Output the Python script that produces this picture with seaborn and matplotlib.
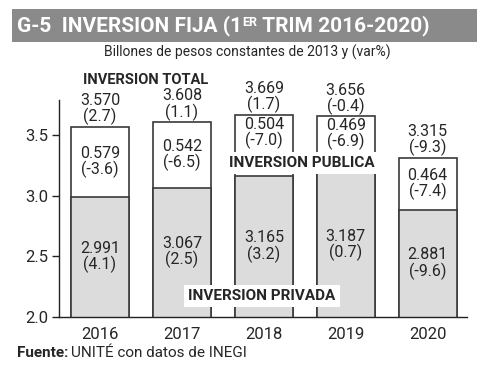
import matplotlib
matplotlib.use('Agg')
import matplotlib.pyplot as plt
import matplotlib.patches as mpatches
import seaborn as sns
import pandas as pd

# 데이터
years = ['2016', '2017', '2018', '2019', '2020']
total = [3.570, 3.608, 3.669, 3.656, 3.315]
total_var = [2.7, 1.1, 1.7, -0.4, -9.3]
publica = [0.579, 0.542, 0.504, 0.469, 0.464]
publica_var = [-3.6, -6.5, -7.0, -6.9, -7.4]
privada = [2.991, 3.067, 3.165, 3.187, 2.881]
privada_var = [4.1, 2.5, 3.2, 0.7, -9.6]

sns.set_style('white')
plt.rcParams['font.family'] = ['Roboto', 'DejaVu Sans']

df = pd.DataFrame({'year': years, 'total': total, 'privada': privada})

fig = plt.figure(figsize=(5, 3.68), dpi=100)
ax = fig.add_axes([0.118, 0.1386, 0.816, 0.5894])

edge = '#3a3a3a'
sns.barplot(data=df, x='year', y='total', color='white', edgecolor=edge,
            linewidth=1.2, width=0.71, saturation=1, ax=ax)
sns.barplot(data=df, x='year', y='privada', color='#dcdcdc', edgecolor=edge,
            linewidth=1.2, width=0.71, saturation=1, ax=ax)

ax.set_ylim(2.0, 3.79)
ax.set_xlim(-0.5, 4.48)
ax.set_yticks([2.0, 2.5, 3.0, 3.5])
ax.set_xlabel('')
ax.set_ylabel('')
for s in ['top', 'right']:
    ax.spines[s].set_visible(False)
for s in ['left', 'bottom']:
    ax.spines[s].set_color('#222222')
    ax.spines[s].set_linewidth(1.0)
ax.tick_params(axis='y', which='major', left=True, length=5, width=1, color='#222222',
               labelsize=12, pad=3)
ax.tick_params(axis='x', bottom=False, labelsize=12, pad=4)

fs = 11.5
# 라벨 박스 위치 (INVERSION PUBLICA 가림 영역)
pub_box_top = 3.37
for i in range(len(years)):
    ax.text(i, total[i] + 0.012, f'{total[i]:.3f}\n({total_var[i]:.1f})',
            ha='center', va='bottom', fontsize=fs, linespacing=1.0)
    low = privada[i]
    if i in (2, 3):
        low = max(low, pub_box_top)
    ax.text(i, (low + total[i]) / 2, f'{publica[i]:.3f}\n({publica_var[i]:.1f})',
            ha='center', va='center', fontsize=fs, linespacing=1.0)
    ax.text(i, (2.0 + privada[i]) / 2, f'{privada[i]:.3f}\n({privada_var[i]:.1f})',
            ha='center', va='center', fontsize=fs, linespacing=1.0)

# 시리즈 라벨
fig.text(146 / 500, 1 - 80 / 368, 'INVERSION TOTAL', ha='center', va='center',
         fontsize=10.5, fontweight='bold')
fig.text(302 / 500, 1 - 163 / 368, 'INVERSION PUBLICA', ha='center', va='center',
         fontsize=11, fontweight='bold',
         bbox=dict(facecolor='white', edgecolor='none', pad=3))
fig.text(262 / 500, 1 - 296 / 368, 'INVERSION PRIVADA', ha='center', va='center',
         fontsize=11, fontweight='bold',
         bbox=dict(facecolor='white', edgecolor='none', pad=3))

# 제목 바
fig.patches.append(mpatches.Rectangle((12 / 500, 1 - 42 / 368), 465 / 500, 33 / 368,
                                      transform=fig.transFigure, facecolor='#8a8a8a',
                                      edgecolor='none', zorder=0))
ty = 1 - 26 / 368
t1 = fig.text(17 / 500, ty, 'G-5  INVERSION FIJA (1', color='white', fontsize=15,
              fontweight='bold', va='center', ha='left')
fig.canvas.draw()
r = fig.canvas.get_renderer()
bb = t1.get_window_extent(r)
t2 = fig.text(bb.x1 / 500, ty + 0.01, 'ER', color='white', fontsize=9,
              fontweight='bold', va='center', ha='left')
bb2 = t2.get_window_extent(r)
fig.text(bb2.x1 / 500, ty, ' TRIM 2016-2020)', color='white', fontsize=15,
         fontweight='bold', va='center', ha='left')

fig.text(247 / 500, 1 - 52 / 368, 'Billones de pesos constantes de 2013 y (var%)',
         ha='center', va='center', fontsize=10)

# 출처
tf = fig.text(17 / 500, 1 - 353 / 368, 'Fuente:', ha='left', va='center',
              fontsize=11, fontweight='bold')
fig.canvas.draw()
bbf = tf.get_window_extent(r)
fig.text(bbf.x1 / 500 + 0.006, 1 - 353 / 368, 'UNITÉ con datos de INEGI', ha='left',
         va='center', fontsize=11)

plt.savefig('out.png', dpi=100)
